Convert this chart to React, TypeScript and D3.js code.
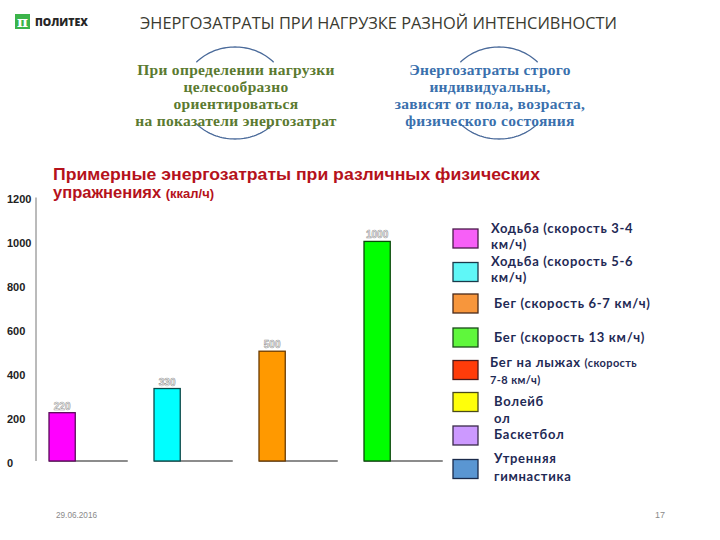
import React from "react";
import * as d3 from "d3";

const categories = ["Ходьба 3-4", "Ходьба 5-6", "Бег 6-7", "Бег 13"];
const values = [220, 330, 500, 1000];
const barFills = ["#ff00ff", "#00ffff", "#ff9900", "#00ff00"];
const barStrokes = ["#5a0a5a", "#0a4a4a", "#6a3a00", "#0a4a0a"];
const yTicks = [0, 200, 400, 600, 800, 1000, 1200];

const legendLines: string[][] = [
  ["Ходьба (скорость 3-4", "км/ч)"],
  ["Ходьба (скорость 5-6", "км/ч)"],
  ["Бег (скорость 6-7 км/ч)"],
  ["Бег (скорость 13 км/ч)"],
  ["Бег на лыжах (скорость", "7-8 км/ч)"],
  ["Волейб", "ол"],
  ["Баскетбол"],
  ["Утренняя", "гимнастика"],
];
const legendFills = ["#f75ff7", "#5ff7f7", "#f7963c", "#5ff73c", "#ff3c0a", "#ffff0a", "#cc99ff", "#5a96d2"];
const legendStrokes = ["#4a1a4a", "#1a3a4a", "#4a2a1a", "#1a4a1a", "#4a1a1a", "#4a4a1a", "#3a2a4a", "#1a2a4a"];

const leftText = ["При определении нагрузки", "целесообразно", "ориентироваться", "на показатели энергозатрат"];
const rightText = ["Энергозатраты строго", "индивидуальны,", "зависят от пола, возраста,", "физического состояния"];

export default function App() {
  const x = d3.scaleBand<string>().domain(categories).range([49, 442.75]).paddingInner(0.25).paddingOuter(0);
  const y = d3.scaleLinear().domain([0, 1200]).range([461, 197.5]);
  const bw = x.bandwidth() / 3;

  const legendY = [238.5, 272, 303.5, 337.5, 370, 402, 435.5, 469];
  const legendTextY: number[][] = [
    [233, 249],
    [266, 282],
    [308],
    [342],
    [367, 384],
    [406, 423],
    [439],
    [463, 481],
  ];
  const legendTextX = [491, 491, 494, 494, 490, 494, 494, 494];

  const arc = (cx: number, cy: number, rx: number, ry: number, a0: number, a1: number) => {
    const pts: [number, number][] = d3.range(0, 41).map((i) => {
      const a = a0 + ((a1 - a0) * i) / 40;
      return [cx + rx * Math.cos(a), cy + ry * Math.sin(a)];
    });
    return d3.line()(pts) || "";
  };
  const arcs = (cx: number, cy: number) => [
    arc(cx, cy, 52, 46, (-180 + 42) * Math.PI / 180, (-42) * Math.PI / 180),
    arc(cx, cy, 52, 46, 42 * Math.PI / 180, 138 * Math.PI / 180),
  ];

  return (
    <svg width={720} height={540} style={{ position: "absolute", left: 0, top: 0, background: "#fff" }}
      fontFamily="Lato, 'Open Sans', sans-serif">
      {/* header */}
      <rect x={15} y={14} width={15} height={15} fill="#3cb44a" />
      <text x={22.5} y={26.5} textAnchor="middle" fill="#fff" fontSize={15} fontFamily="'DejaVu Serif', serif" fontWeight="bold">π</text>
      <text x={35} y={26} fontSize={10.5} fontWeight="900" fill="#262626" fontFamily="'Open Sans', sans-serif" textLength={53} lengthAdjust="spacingAndGlyphs">ПОЛИТЕХ</text>
      <text x={140} y={29} fontSize={17} fill="#3a3a30" fontFamily="'Open Sans', sans-serif" textLength={477} lengthAdjust="spacingAndGlyphs">ЭНЕРГОЗАТРАТЫ ПРИ НАГРУЗКЕ РАЗНОЙ ИНТЕНСИВНОСТИ</text>

      {/* arcs */}
      {arcs(235, 93).map((d, i) => <path key={"la" + i} d={d} fill="none" stroke="#4a6a9a" strokeWidth={1.3} />)}
      {arcs(499, 93).map((d, i) => <path key={"ra" + i} d={d} fill="none" stroke="#4a6a9a" strokeWidth={1.3} />)}
      {leftText.map((t, i) => (
        <text key={"lt" + i} x={236} y={[75, 92, 109, 126][i]} textAnchor="middle" fontSize={15.5} fontWeight="bold"
          letterSpacing={0.3} fill="#5b7a30" fontFamily="'Liberation Serif', 'DejaVu Serif', serif">{t}</text>
      ))}
      {rightText.map((t, i) => (
        <text key={"rt" + i} x={490} y={[75, 92, 109, 126][i]} textAnchor="middle" fontSize={15.5} fontWeight="bold"
          letterSpacing={0.3} fill="#3a70ad" fontFamily="'Liberation Serif', 'DejaVu Serif', serif">{t}</text>
      ))}

      {/* chart title */}
      <text x={53} y={180} fontSize={16.5} fontWeight="bold" fill="#b5121b" fontFamily="'Liberation Sans', Arial, sans-serif" textLength={487} lengthAdjust="spacingAndGlyphs">Примерные энергозатраты при различных физических</text>
      <text x={53} y={198} fontSize={16.5} fontWeight="bold" fill="#b5121b" fontFamily="'Liberation Sans', Arial, sans-serif">
        упражнениях <tspan fontSize={13}>(ккал/ч)</tspan>
      </text>

      {/* y axis */}
      <line x1={36} x2={36} y1={y(1200)} y2={y(0)} stroke="#777" strokeWidth={1} />
      {yTicks.map((t) => (
        <text key={"yt" + t} x={7} y={y(t) + 5.5} fontSize={11} fontWeight="bold" fill="#222" fontFamily="'Liberation Sans', Arial, sans-serif">{t}</text>
      ))}

      {/* bars */}
      {categories.map((c, i) => (
        <g key={"b" + i}>
          <line x1={x(c)!} x2={x(c)! + x.bandwidth()} y1={y(0)} y2={y(0)} stroke="#666" strokeWidth={1.5} />
          <rect x={x(c)!} y={y(values[i])} width={bw} height={y(0) - y(values[i])} fill={barFills[i]} stroke={barStrokes[i]} strokeWidth={1.3} />
          <text x={x(c)! + bw / 2} y={y(values[i]) - 3} textAnchor="middle" fontSize={10} fontWeight="bold" fill="#fff" stroke="#999" strokeWidth={0.6} fontFamily="'Liberation Sans', Arial, sans-serif">{values[i]}</text>
        </g>
      ))}

      {/* legend */}
      {legendLines.map((lines, i) => (
        <g key={"lg" + i}>
          <rect x={453} y={legendY[i] - 9.5} width={25} height={19} fill={legendFills[i]} stroke={legendStrokes[i]} strokeWidth={1.3} />
          {lines.map((ln, j) => {
            if (i === 4 && j === 0) {
              return (
                <text key={j} x={legendTextX[i]} y={legendTextY[i][j]} fontSize={13} fontWeight="bold" letterSpacing={0.7} fill="#1f2a55">
                  Бег на лыжах <tspan fontSize={11} letterSpacing={0.4}>(скорость</tspan>
                </text>
              );
            }
            return (
              <text key={j} x={legendTextX[i]} y={legendTextY[i][j]} fontSize={i === 4 ? 11 : 13} fontWeight="bold" letterSpacing={i === 4 ? 0.4 : 0.7} fill="#1f2a55">{ln}</text>
            );
          })}
        </g>
      ))}

      {/* footer */}
      <text x={56} y={518} fontSize={9} fill="#8a8a8a" fontFamily="'Liberation Sans', Arial, sans-serif" textLength={41} lengthAdjust="spacingAndGlyphs">29.06.2016</text>
      <text x={655} y={518} fontSize={9} fill="#8a8a8a" fontFamily="'Liberation Sans', Arial, sans-serif">17</text>
    </svg>
  );
}
